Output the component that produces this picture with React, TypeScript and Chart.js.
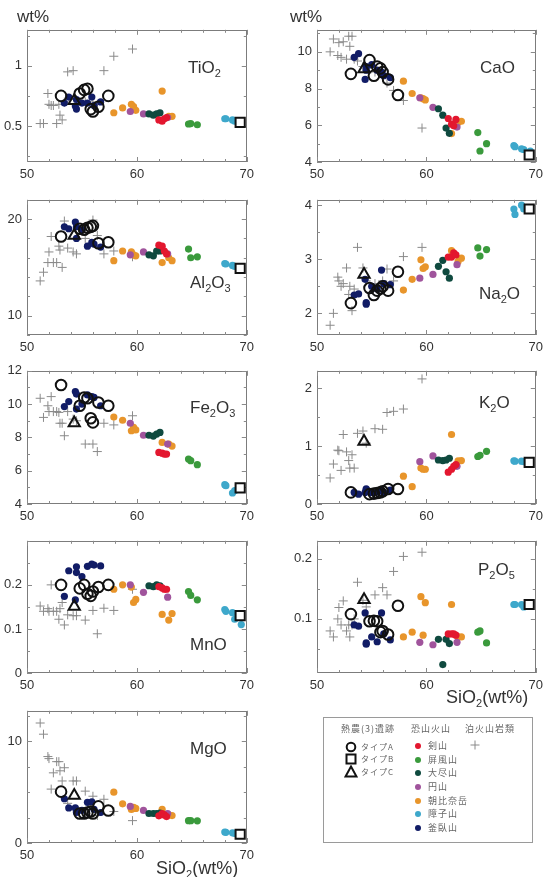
import React, { useEffect, useRef } from "react";
import { Chart, registerables } from "chart.js";
Chart.register(...registerables);

// ---------------- DATA ----------------
// Type A (open circles)
const TYPEA_SIO2 = [53.1, 54.8, 55.2, 55.5, 55.8, 56.0, 56.5, 57.4];
const TYPEA_TIO2 = [0.75, 0.77, 0.8, 0.81, 0.64, 0.62, 0.66, 0.75];
const TYPEA_AL2O3 = [18.2, 19.0, 18.9, 19.1, 19.2, 19.3, 17.5, 17.6];
const TYPEA_FE2O3 = [11.15, 9.9, 10.4, 10.35, 9.15, 8.9, 10.1, 9.9];
const TYPEA_MNO = [0.2, 0.192, 0.2, 0.18, 0.175, 0.185, 0.195, 0.2];
const TYPEA_MGO = [5.05, 2.9, 2.9, 3.0, 3.1, 2.9, 3.6, 3.2];
const TYPEA_CAO = [8.8, 9.55, 8.7, 9.2, 9.1, 8.9, 8.5, 7.65];
const TYPEA_NA2O = [2.19, 2.47, 2.34, 2.42, 2.46, 2.5, 2.42, 2.77];
const TYPEA_K2O = [0.2, 0.17, 0.18, 0.19, 0.2, 0.22, 0.26, 0.26];
const TYPEA_P2O5 = [0.108, 0.096, 0.097, 0.096, 0.078, 0.08, 0.074, 0.122];

// Type B (open square)
const TYPEB_SIO2 = [69.4];
const TYPEB_TIO2 = [0.53];
const TYPEB_AL2O3 = [14.9];
const TYPEB_FE2O3 = [4.97];
const TYPEB_MNO = [0.13];
const TYPEB_MGO = [0.86];
const TYPEB_CAO = [4.38];
const TYPEB_NA2O = [3.93];
const TYPEB_K2O = [0.72];
const TYPEB_P2O5 = [0.124];

// Type C (open triangle)
const TYPEC_SIO2 = [54.3];
const TYPEC_TIO2 = [0.71];
const TYPEC_AL2O3 = [18.3];
const TYPEC_FE2O3 = [8.87];
const TYPEC_MNO = [0.151];
const TYPEC_MGO = [4.67];
const TYPEC_CAO = [9.06];
const TYPEC_NA2O = [2.72];
const TYPEC_K2O = [1.08];
const TYPEC_P2O5 = [0.132];

// 剣山
const TSURUGI_SIO2 = [62.0, 62.3, 62.5, 62.7];
const TSURUGI_TIO2 = [0.55, 0.54, 0.56, 0.57];
const TSURUGI_AL2O3 = [17.3, 17.2, 16.7, 16.4];
const TSURUGI_FE2O3 = [7.1, 7.05, 7.0, 7.0];
const TSURUGI_MNO = [0.196, 0.193, 0.19, 0.19];
const TSURUGI_MGO = [2.67, 2.9, 2.76, 2.6];
const TSURUGI_CAO = [6.37, 6.06, 5.97, 6.32];
const TSURUGI_NA2O = [3.04, 3.04, 3.12, 3.08];
const TSURUGI_K2O = [0.55, 0.6, 0.65, 0.68];
const TSURUGI_P2O5 = [0.075, 0.075, 0.075, 0.073];

// 屏風山
const BYOBU_SIO2 = [64.7, 64.9, 65.5];
const BYOBU_TIO2 = [0.516, 0.52, 0.51];
const BYOBU_AL2O3 = [16.9, 16.0, 16.1];
const BYOBU_FE2O3 = [6.7, 6.6, 6.36];
const BYOBU_MNO = [0.185, 0.176, 0.166];
const BYOBU_MGO = [2.2, 2.2, 2.18];
const BYOBU_CAO = [5.6, 4.6, 5.0];
const BYOBU_NA2O = [3.21, 3.06, 3.18];
const BYOBU_K2O = [0.82, 0.84, 0.91];
const BYOBU_P2O5 = [0.078, 0.08, 0.06];

// 大尽山
const OZUKUSHI_SIO2 = [61.1, 61.5, 61.8, 62.1];
const OZUKUSHI_TIO2 = [0.6, 0.59, 0.6, 0.61];
const OZUKUSHI_AL2O3 = [16.3, 16.2, 16.7, 16.7];
const OZUKUSHI_FE2O3 = [8.13, 8.08, 8.2, 8.3];
const OZUKUSHI_MNO = [0.198, 0.196, 0.2, 0.198];
const OZUKUSHI_MGO = [2.9, 2.9, 2.9, 2.95];
const OZUKUSHI_CAO = [6.9, 6.55, 5.85, 5.56];
const OZUKUSHI_NA2O = [2.87, 2.98, 2.77, 2.65];
const OZUKUSHI_K2O = [0.76, 0.75, 0.76, 0.79];
const OZUKUSHI_P2O5 = [0.066, 0.024, 0.066, 0.059];

// 円山
const MARU_SIO2 = [59.4, 60.6, 62.8];
const MARU_TIO2 = [0.62, 0.6, 0.57];
const MARU_AL2O3 = [16.3, 16.6, 16.4];
const MARU_FE2O3 = [8.85, 8.13, 7.6];
const MARU_MNO = [0.2, 0.183, 0.172];
const MARU_MGO = [3.6, 3.2, 2.9];
const MARU_CAO = [7.5, 6.98, 5.9];
const MARU_NA2O = [2.65, 2.72, 2.9];
const MARU_K2O = [0.73, 0.83, 0.65];
const MARU_P2O5 = [0.061, 0.057, 0.061];

// 朝比奈岳
const ASAHINA_SIO2 = [57.9, 58.7, 59.5, 59.7, 59.9, 62.3, 62.9, 63.2];
const ASAHINA_TIO2 = [0.61, 0.65, 0.68, 0.66, 0.63, 0.79, 0.58, 0.58];
const ASAHINA_AL2O3 = [15.7, 16.7, 16.6, 16.3, 16.2, 15.5, 16.0, 15.7];
const ASAHINA_FE2O3 = [9.22, 9.03, 8.4, 8.6, 8.45, 7.7, 7.6, 7.48];
const ASAHINA_MNO = [0.19, 0.2, 0.195, 0.16, 0.167, 0.133, 0.12, 0.135];
const ASAHINA_MGO = [5.0, 3.85, 3.3, 3.5, 3.4, 3.3, 2.76, 2.7];
const ASAHINA_CAO = [8.4, 7.73, 7.5, 7.45, 7.38, 5.55, 6.15, 6.22];
const ASAHINA_NA2O = [2.43, 2.63, 2.99, 2.83, 2.86, 3.16, 2.96, 3.02];
const ASAHINA_K2O = [0.48, 0.3, 0.62, 0.6, 0.6, 1.2, 0.745, 0.75];
const ASAHINA_P2O5 = [0.07, 0.078, 0.137, 0.073, 0.127, 0.124, 0.07, 0.07];

// 障子山
const SHOJI_SIO2 = [68.0, 68.1, 68.7, 68.9, 69.5];
const SHOJI_TIO2 = [0.56, 0.56, 0.55, 0.54, 0.53];
const SHOJI_AL2O3 = [15.4, 15.35, 15.2, 15.1, 15.0];
const SHOJI_FE2O3 = [5.16, 5.1, 4.66, 4.8, 4.9];
const SHOJI_MNO = [0.144, 0.14, 0.137, 0.122, 0.11];
const SHOJI_MGO = [1.08, 1.05, 1.0, 0.95, 0.9];
const SHOJI_CAO = [4.9, 4.83, 4.72, 4.68, 4.6];
const SHOJI_NA2O = [3.93, 3.83, 4.0, 3.93, 3.95];
const SHOJI_K2O = [0.745, 0.74, 0.74, 0.73, 0.73];
const SHOJI_P2O5 = [0.124, 0.124, 0.124, 0.12, 0.122];

// 釜臥山
const KAMAFUSE_SIO2 = [53.4, 53.8, 54.4, 54.5, 54.5, 55.0, 55.5, 55.9, 56.1, 56.7];
const KAMAFUSE_TIO2 = [0.69, 0.74, 0.665, 0.64, 0.72, 0.69, 0.69, 0.74, 0.67, 0.7];
const KAMAFUSE_AL2O3 = [19.2, 19.0, 19.7, 18.0, 19.2, 18.9, 17.2, 17.6, 17.4, 17.1];
const KAMAFUSE_FE2O3 = [9.85, 10.15, 10.75, 10.6, 9.7, 10.0, 10.55, 10.45, 10.4, 9.9];
const KAMAFUSE_MNO = [0.174, 0.232, 0.166, 0.241, 0.228, 0.219, 0.242, 0.247, 0.245, 0.243];
const KAMAFUSE_MGO = [4.35, 3.45, 3.45, 3.0, 3.1, 3.2, 4.0, 4.05, 3.3, 3.0];
const KAMAFUSE_CAO = [9.7, 9.9, 8.5, 9.2, 9.0, 9.3, 9.0, 8.9, 8.7, 8.6];
const KAMAFUSE_NA2O = [2.34, 2.36, 2.63, 2.17, 2.2, 2.5, 2.45, 2.8, 2.55, 2.53];
const KAMAFUSE_K2O = [0.2, 0.17, 0.2, 0.26, 0.25, 0.2, 0.21, 0.22, 0.2, 0.24];
const KAMAFUSE_P2O5 = [0.09, 0.088, 0.11, 0.058, 0.06, 0.07, 0.062, 0.11, 0.075, 0.065];

// 泊火山岩類
const TOMARI_SIO2 = [51.2, 51.5, 51.9, 52.0, 52.2, 52.4, 52.7, 52.9, 53.0, 53.2, 53.4, 53.7, 54.2, 54.5, 55.3, 56.0, 56.4, 57.0, 57.9, 59.6];
const TOMARI_TIO2 = [0.52, 0.52, 0.77, 0.68, 0.67, 0.67, 0.52, 0.68, 0.59, 0.55, 0.7, 0.95, 0.96, 0.72, 0.7, 0.7, 0.68, 0.96, 1.08, 1.14];
const TOMARI_AL2O3 = [13.6, 14.5, 15.5, 16.6, 18.2, 15.5, 15.5, 17.2, 16.8, 15.0, 19.8, 17.0, 16.6, 16.4, 18.0, 19.9, 18.3, 16.4, 16.7, 16.1];
const TOMARI_FE2O3 = [10.35, 9.2, 9.9, 9.55, 10.45, 9.55, 9.55, 9.5, 8.85, 8.85, 8.1, 9.55, 9.1, 9.0, 7.6, 7.6, 7.15, 8.85, 8.75, 9.3];
const TOMARI_MNO = [0.152, 0.14, 0.146, 0.14, 0.2, 0.14, 0.14, 0.122, 0.146, 0.16, 0.109, 0.132, 0.13, 0.13, 0.12, 0.142, 0.089, 0.147, 0.142, 0.19];
const TOMARI_MGO = [11.8, 10.7, 8.5, 8.3, 5.3, 6.9, 8.0, 8.0, 7.1, 6.1, 7.4, 3.9, 6.1, 6.1, 5.1, 4.6, 2.7, 4.3, 3.1, 2.2];
const TOMARI_CAO = [10.0, 10.7, 9.8, 10.5, 9.7, 10.55, 9.6, 10.85, 10.3, 10.85, 9.6, 9.5, 9.2, 9.1, 8.9, 8.6, 8.3, 7.9, 7.35, 5.85];
const TOMARI_NA2O = [1.78, 2.0, 2.67, 2.6, 2.5, 2.55, 2.84, 2.35, 2.5, 2.05, 2.45, 3.22, 2.84, 2.6, 2.55, 2.6, 2.82, 2.6, 3.05, 3.22];
const TOMARI_K2O = [0.45, 0.69, 0.93, 0.92, 0.58, 1.2, 0.9, 0.75, 0.62, 0.85, 0.62, 1.22, 1.26, 1.05, 1.3, 1.29, 1.58, 1.6, 1.64, 2.16];
const TOMARI_P2O5 = [0.08, 0.07, 0.1, 0.119, 0.09, 0.13, 0.08, 0.09, 0.07, 0.09, 0.1, 0.161, 0.131, 0.12, 0.14, 0.152, 0.14, 0.179, 0.204, 0.211];

// tick labels
const X_TICKS = [50, 60, 70];
const TIO2_TICKS = [0.5, 1];
const CAO_TICKS = [4, 6, 8, 10];
const AL2O3_TICKS = [10, 20];
const NA2O_TICKS = [2, 3, 4];
const FE2O3_TICKS = [4, 6, 8, 10, 12];
const K2O_TICKS = [0, 1, 2];
const MNO_TICKS = [0, 0.1, 0.2];
const P2O5_TICKS = [0.1, 0.2];
const MGO_TICKS = [0, 10];

// ---------------- STYLE ----------------
const FONT = '"Liberation Sans", Arial, Helvetica, sans-serif';
const JP = '"Noto Sans CJK JP", sans-serif';

const C_RED = "#e3172f";
const C_GREEN = "#3a9a3c";
const C_DKGREEN = "#0f4a3f";
const C_PURPLE = "#a0549c";
const C_ORANGE = "#e8952b";
const C_CYAN = "#3ea8cb";
const C_NAVY = "#111c66";
const C_GRAY = "#8a8a8a";

type Ser = {
  name: string;
  x: number[];
  v: Record<string, number[]>;
  style: string;
  r: number;
  fill: string;
  stroke: string;
  bw: number;
};

const mk = (name: string, x: number[], arr: number[][], style: string, r: number, fill: string, stroke: string, bw: number): Ser => ({
  name,
  x,
  v: { TiO2: arr[0], Al2O3: arr[1], Fe2O3: arr[2], MnO: arr[3], MgO: arr[4], CaO: arr[5], Na2O: arr[6], K2O: arr[7], P2O5: arr[8] },
  style, r, fill, stroke, bw,
});

const CLEAR = "rgba(0,0,0,0)";
// first = drawn on top
const SERIES: Ser[] = [
  mk("タイプA", TYPEA_SIO2, [TYPEA_TIO2, TYPEA_AL2O3, TYPEA_FE2O3, TYPEA_MNO, TYPEA_MGO, TYPEA_CAO, TYPEA_NA2O, TYPEA_K2O, TYPEA_P2O5], "circle", 5.3, CLEAR, "#111", 2),
  mk("タイプB", TYPEB_SIO2, [TYPEB_TIO2, TYPEB_AL2O3, TYPEB_FE2O3, TYPEB_MNO, TYPEB_MGO, TYPEB_CAO, TYPEB_NA2O, TYPEB_K2O, TYPEB_P2O5], "rect", 6.5, "#fff", "#111", 2),
  mk("タイプC", TYPEC_SIO2, [TYPEC_TIO2, TYPEC_AL2O3, TYPEC_FE2O3, TYPEC_MNO, TYPEC_MGO, TYPEC_CAO, TYPEC_NA2O, TYPEC_K2O, TYPEC_P2O5], "triangle", 6.5, CLEAR, "#111", 2),
  mk("剣山", TSURUGI_SIO2, [TSURUGI_TIO2, TSURUGI_AL2O3, TSURUGI_FE2O3, TSURUGI_MNO, TSURUGI_MGO, TSURUGI_CAO, TSURUGI_NA2O, TSURUGI_K2O, TSURUGI_P2O5], "circle", 3.6, C_RED, C_RED, 0),
  mk("屏風山", BYOBU_SIO2, [BYOBU_TIO2, BYOBU_AL2O3, BYOBU_FE2O3, BYOBU_MNO, BYOBU_MGO, BYOBU_CAO, BYOBU_NA2O, BYOBU_K2O, BYOBU_P2O5], "circle", 3.6, C_GREEN, C_GREEN, 0),
  mk("大尽山", OZUKUSHI_SIO2, [OZUKUSHI_TIO2, OZUKUSHI_AL2O3, OZUKUSHI_FE2O3, OZUKUSHI_MNO, OZUKUSHI_MGO, OZUKUSHI_CAO, OZUKUSHI_NA2O, OZUKUSHI_K2O, OZUKUSHI_P2O5], "circle", 3.6, C_DKGREEN, C_DKGREEN, 0),
  mk("円山", MARU_SIO2, [MARU_TIO2, MARU_AL2O3, MARU_FE2O3, MARU_MNO, MARU_MGO, MARU_CAO, MARU_NA2O, MARU_K2O, MARU_P2O5], "circle", 3.6, C_PURPLE, C_PURPLE, 0),
  mk("朝比奈岳", ASAHINA_SIO2, [ASAHINA_TIO2, ASAHINA_AL2O3, ASAHINA_FE2O3, ASAHINA_MNO, ASAHINA_MGO, ASAHINA_CAO, ASAHINA_NA2O, ASAHINA_K2O, ASAHINA_P2O5], "circle", 3.6, C_ORANGE, C_ORANGE, 0),
  mk("障子山", SHOJI_SIO2, [SHOJI_TIO2, SHOJI_AL2O3, SHOJI_FE2O3, SHOJI_MNO, SHOJI_MGO, SHOJI_CAO, SHOJI_NA2O, SHOJI_K2O, SHOJI_P2O5], "circle", 3.6, C_CYAN, C_CYAN, 0),
  mk("釜臥山", KAMAFUSE_SIO2, [KAMAFUSE_TIO2, KAMAFUSE_AL2O3, KAMAFUSE_FE2O3, KAMAFUSE_MNO, KAMAFUSE_MGO, KAMAFUSE_CAO, KAMAFUSE_NA2O, KAMAFUSE_K2O, KAMAFUSE_P2O5], "circle", 3.6, C_NAVY, C_NAVY, 0),
  mk("泊火山岩類", TOMARI_SIO2, [TOMARI_TIO2, TOMARI_AL2O3, TOMARI_FE2O3, TOMARI_MNO, TOMARI_MGO, TOMARI_CAO, TOMARI_NA2O, TOMARI_K2O, TOMARI_P2O5], "cross", 4.5, C_GRAY, C_GRAY, 1),
];

// ---------------- LAYOUT ----------------
const COLS = [
  [27, 249],
  [317, 538],
];
const ROWS = [
  [25, 162],
  [195, 335],
  [366, 504],
  [536, 673],
  [706, 843],
];

type PanelDef = {
  key: string;
  col: number;
  row: number;
  min: number;
  max: number;
  ticks: number[];
  minor: number;
  label: string[];
  lx: number;
  ly: number;
};

// label parts: [text, sub, text, sub]
const PANELS: PanelDef[] = [
  { key: "TiO2", col: 0, row: 0, min: 0.2, max: 1.3, ticks: TIO2_TICKS, minor: 0.25, label: ["TiO", "2", ""], lx: 188, ly: 68 },
  { key: "Al2O3", col: 0, row: 1, min: 8, max: 22, ticks: AL2O3_TICKS, minor: 2, label: ["Al", "2", "O", "3"], lx: 190, ly: 283 },
  { key: "Fe2O3", col: 0, row: 2, min: 4, max: 12, ticks: FE2O3_TICKS, minor: 1, label: ["Fe", "2", "O", "3"], lx: 190, ly: 408 },
  { key: "MnO", col: 0, row: 3, min: 0, max: 0.3, ticks: MNO_TICKS, minor: 0.05, label: ["MnO", "", ""], lx: 190, ly: 645 },
  { key: "MgO", col: 0, row: 4, min: 0, max: 13, ticks: MGO_TICKS, minor: 2.5, label: ["MgO", "", ""], lx: 190, ly: 749 },
  { key: "CaO", col: 1, row: 0, min: 4, max: 11.2, ticks: CAO_TICKS, minor: 1, label: ["CaO", "", ""], lx: 480, ly: 68 },
  { key: "Na2O", col: 1, row: 1, min: 1.6, max: 4.1, ticks: NA2O_TICKS, minor: 0.5, label: ["Na", "2", "O"], lx: 479, ly: 294 },
  { key: "K2O", col: 1, row: 2, min: 0, max: 2.3, ticks: K2O_TICKS, minor: 0.5, label: ["K", "2", "O"], lx: 479, ly: 403 },
  { key: "P2O5", col: 1, row: 3, min: 0.01, max: 0.23, ticks: P2O5_TICKS, minor: 0.05, label: ["P", "2", "O", "5"], lx: 478, ly: 570 },
];

const YW = 30;
const XH = 24;
const PT = 8;
const PR = 10;

function innerTicks(minorX: number, minorY: number, yMaj: number[]) {
  return {
    id: "innerTicks",
    beforeDatasetsDraw(chart: any) {
      const { ctx, chartArea, scales } = chart;
      const { left, right, top, bottom } = chartArea;
      const xs = scales.x;
      const ys = scales.y;
      ctx.save();
      ctx.strokeStyle = "#7c7c7c";
      ctx.lineWidth = 1;
      ctx.strokeRect(Math.round(left) + 0.5, Math.round(top) + 0.5, Math.round(right - left) - 1, Math.round(bottom - top) - 1);
      ctx.strokeStyle = "#8a8a8a";
      ctx.beginPath();
      const isMajor = (v: number, arr: number[]) => arr.some((a) => Math.abs(a - v) < 1e-9);
      for (let v = Math.ceil(xs.min / minorX - 1e-9) * minorX; v <= xs.max + 1e-9; v += minorX) {
        const px = Math.round(xs.getPixelForValue(v)) + 0.5;
        const len = isMajor(v, X_TICKS) ? 5 : 3;
        ctx.moveTo(px, bottom);
        ctx.lineTo(px, bottom - len);
        ctx.moveTo(px, top);
        ctx.lineTo(px, top + len);
      }
      for (let v = Math.ceil(ys.min / minorY - 1e-9) * minorY; v <= ys.max + 1e-9; v += minorY) {
        const py = Math.round(ys.getPixelForValue(v)) + 0.5;
        const len = isMajor(v, yMaj) ? 5 : 3;
        ctx.moveTo(left, py);
        ctx.lineTo(left + len, py);
        ctx.moveTo(right, py);
        ctx.lineTo(right - len, py);
      }
      ctx.stroke();
      ctx.restore();
    },
  };
}

function Panel({ p }: { p: PanelDef }) {
  const ref = useRef<HTMLCanvasElement>(null);
  const [L, R] = COLS[p.col];
  const [T, B] = ROWS[p.row];
  const w = YW + (R - L) + PR;
  const h = PT + (B - T) + XH;

  useEffect(() => {
    const datasets = SERIES.map((s) => ({
      label: s.name,
      data: s.x.map((xv, i) => ({ x: xv, y: s.v[p.key][i] })),
      pointStyle: s.style as any,
      pointRadius: s.r,
      pointHoverRadius: s.r,
      backgroundColor: s.fill,
      borderColor: s.stroke,
      borderWidth: s.bw,
      showLine: false,
      clip: false as any,
    }));
    const tickFont = { family: FONT, size: 13 };
    const chart = new Chart(ref.current as HTMLCanvasElement, {
      type: "scatter",
      data: { datasets },
      options: {
        animation: false,
        responsive: false,
        devicePixelRatio: 1,
        events: [],
        layout: { padding: { top: PT, right: PR, left: 0, bottom: 0 } },
        plugins: { legend: { display: false }, tooltip: { enabled: false } },
        scales: {
          x: {
            type: "linear",
            min: 50,
            max: 70,
            grid: { display: false, drawTicks: false },
            border: { display: false },
            ticks: { autoSkip: false, padding: 5, color: "#333", font: tickFont, callback: (v: any) => String(v) },
            afterBuildTicks: (s: any) => {
              s.ticks = X_TICKS.map((v) => ({ value: v }));
            },
            afterFit: (s: any) => {
              s.height = XH;
            },
          },
          y: {
            type: "linear",
            min: p.min,
            max: p.max,
            grid: { display: false, drawTicks: false },
            border: { display: false },
            ticks: { autoSkip: false, padding: 5, color: "#333", font: tickFont, callback: (v: any) => String(v) },
            afterBuildTicks: (s: any) => {
              s.ticks = p.ticks.map((v) => ({ value: v }));
            },
            afterFit: (s: any) => {
              s.width = YW;
            },
          },
        },
      },
      plugins: [innerTicks(2, p.minor, p.ticks)],
    });
    return () => chart.destroy();
  }, []);

  const [a, b, c, d] = p.label;
  const subStyle: React.CSSProperties = { fontSize: 11, position: "relative", top: 4 };
  return (
    <>
      <canvas
        ref={ref}
        width={w}
        height={h}
        style={{ position: "absolute", left: L - YW, top: T - PT, width: w, height: h }}
      />
      <div
        style={{
          position: "absolute",
          left: p.lx,
          top: p.ly - 11,
          height: 22,
          lineHeight: "22px",
          fontFamily: FONT,
          fontSize: 17,
          color: "#333",
          whiteSpace: "nowrap",
        }}
      >
        {a}
        {b ? <span style={subStyle}>{b}</span> : null}
        {c}
        {d ? <span style={subStyle}>{d}</span> : null}
      </div>
    </>
  );
}

function Txt({ x, cy, children, size = 9, center = false, color = "#666", font = JP, ls = 1 }: any) {
  return (
    <div
      style={{
        position: "absolute",
        left: x,
        top: cy - 8,
        height: 16,
        lineHeight: "16px",
        fontSize: size,
        fontFamily: font,
        color,
        whiteSpace: "nowrap",
        letterSpacing: ls,
        transform: center ? "translateX(-50%)" : undefined,
      }}
    >
      {children}
    </div>
  );
}

function Sym({ x, cy, kind, color }: { x: number; cy: number; kind: string; color?: string }) {
  const s = 14;
  let shape: React.ReactNode = null;
  if (kind === "circle") shape = <circle cx={7} cy={7} r={4.3} fill="none" stroke="#111" strokeWidth={2} />;
  if (kind === "square") shape = <rect x={2.5} y={2.5} width={9} height={9} fill="none" stroke="#111" strokeWidth={2} />;
  if (kind === "triangle") shape = <polygon points="7,1.5 12.5,11.5 1.5,11.5" fill="none" stroke="#111" strokeWidth={2} />;
  if (kind === "dot") shape = <circle cx={7} cy={7} r={3} fill={color} />;
  if (kind === "plus")
    shape = (
      <g stroke={C_GRAY} strokeWidth={1}>
        <line x1={2.5} y1={7} x2={11.5} y2={7} />
        <line x1={7} y1={2.5} x2={7} y2={11.5} />
      </g>
    );
  return (
    <svg width={s} height={s} style={{ position: "absolute", left: x - 7, top: cy - 7 }}>
      {shape}
    </svg>
  );
}

const LEGEND_VOLC = [
  ["剣山", C_RED],
  ["屏風山", C_GREEN],
  ["大尽山", C_DKGREEN],
  ["円山", C_PURPLE],
  ["朝比奈岳", C_ORANGE],
  ["障子山", C_CYAN],
  ["釜臥山", C_NAVY],
];
const LEGEND_ROWS = [746, 760, 773, 787, 801, 814, 828];

export default function App() {
  return (
    <div style={{ position: "absolute", left: 0, top: 0, width: 548, height: 877, background: "#fff", overflow: "hidden" }}>
      {PANELS.map((p) => (
        <Panel key={p.key} p={p} />
      ))}
      {/* wt% labels */}
      <Txt x={17} cy={17} size={17} font={FONT} color="#333" ls={0}>wt%</Txt>
      <Txt x={290} cy={17} size={17} font={FONT} color="#333" ls={0}>wt%</Txt>
      {/* SiO2 axis titles */}
      <div style={{ position: "absolute", left: 156, top: 856, height: 24, lineHeight: "24px", fontFamily: FONT, fontSize: 18, color: "#333", whiteSpace: "nowrap" }}>
        SiO<span style={{ fontSize: 11, position: "relative", top: 4 }}>2</span>(wt%)
      </div>
      <div style={{ position: "absolute", left: 446, top: 685, height: 24, lineHeight: "24px", fontFamily: FONT, fontSize: 18, color: "#333", whiteSpace: "nowrap" }}>
        SiO<span style={{ fontSize: 11, position: "relative", top: 4 }}>2</span>(wt%)
      </div>
      {/* legend */}
      <div style={{ position: "absolute", left: 323, top: 717, width: 210, height: 126, border: "1px solid #9a9a9a", boxSizing: "border-box" }} />
      <Txt x={368} cy={729} center>熱農(3)遺跡</Txt>
      <Txt x={431} cy={729} center>恐山火山</Txt>
      <Txt x={490} cy={729} center>泊火山岩類</Txt>
      <Sym x={351} cy={747} kind="circle" />
      <Sym x={351} cy={759} kind="square" />
      <Sym x={351} cy={772} kind="triangle" />
      <Txt x={361} cy={747} size={8}>タイプA</Txt>
      <Txt x={361} cy={759} size={8}>タイプB</Txt>
      <Txt x={361} cy={772} size={8}>タイプC</Txt>
      {LEGEND_VOLC.map(([n, c], i) => (
        <React.Fragment key={n}>
          <Sym x={418} cy={LEGEND_ROWS[i]} kind="dot" color={c} />
          <Txt x={428} cy={LEGEND_ROWS[i]}>{n}</Txt>
        </React.Fragment>
      ))}
      <Sym x={475} cy={745} kind="plus" />
    </div>
  );
}
